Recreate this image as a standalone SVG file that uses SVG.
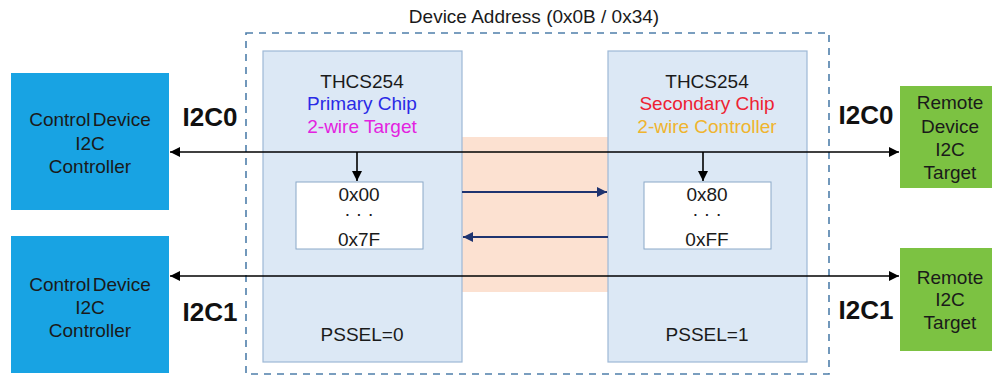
<svg xmlns="http://www.w3.org/2000/svg" width="992" height="376" viewBox="0 0 992 376">
<defs>
<marker id="ab" viewBox="0 0 10 10" refX="10" refY="5" markerWidth="10" markerHeight="10" markerUnits="userSpaceOnUse" orient="auto-start-reverse"><path d="M0,0 L10,5 L0,10 z" fill="#000"/></marker>
<marker id="an" viewBox="0 0 10 10" refX="10" refY="5" markerWidth="10" markerHeight="10" markerUnits="userSpaceOnUse" orient="auto"><path d="M0,0 L10,5 L0,10 z" fill="#1f3470"/></marker>
</defs>
<style>
text{font-family:"Liberation Sans",Arial,sans-serif;text-anchor:middle}
.ctl{fill:#18a3e3}
.tgt{fill:#7cc242}
.chip{fill:#dce8f5;stroke:#9db8d6;stroke-width:1.2}
.mem{fill:#fff;stroke:#8aa8c8;stroke-width:1}
.t{font-size:19px;fill:#1a1a1a}
.bus{font-size:26px;font-weight:bold;fill:#111}
.blk{stroke:#000;stroke-width:1.6;fill:none}
.nav{stroke:#1f3470;stroke-width:1.8;fill:none}
</style>
<rect x="0" y="0" width="992" height="376" fill="#fff"/>
<g id="boundary">
<rect x="246" y="33" width="583" height="341" fill="none" stroke="#4f7fab" stroke-width="1.6" stroke-dasharray="7,6"/>
<text class="t" x="534" y="23">Device Address (0x0B / 0x34)</text>
</g>
<g id="band"><rect x="462" y="137" width="146" height="155" fill="#fce1d1"/></g>
<g id="ctrl0">
<rect class="ctl" x="11" y="73" width="158" height="137"/>
<text class="t" x="90" y="126" style="word-spacing:-3px">Control Device</text>
<text class="t" x="90" y="150">I2C</text>
<text class="t" x="90" y="173">Controller</text>
</g>
<g id="ctrl1">
<rect class="ctl" x="11" y="236" width="158" height="137"/>
<text class="t" x="90" y="291" style="word-spacing:-3px">Control Device</text>
<text class="t" x="90" y="314">I2C</text>
<text class="t" x="90" y="337">Controller</text>
</g>
<g id="primary">
<rect class="chip" x="263" y="51" width="199" height="311"/>
<text class="t" x="362" y="88">THCS254</text>
<text class="t" x="362" y="110" style="fill:#2a2ae6">Primary Chip</text>
<text class="t" x="362" y="133" style="fill:#e322e0">2-wire Target</text>
<rect class="mem" x="296" y="182" width="127" height="67"/>
<text class="t" x="359" y="201">0x00</text>
<text class="t" x="359" y="220">· · ·</text>
<text class="t" x="359" y="246">0x7F</text>
<text class="t" x="362" y="341">PSSEL=0</text>
</g>
<g id="secondary">
<rect class="chip" x="608" y="51" width="199" height="311"/>
<text class="t" x="707" y="88">THCS254</text>
<text class="t" x="707" y="110" style="fill:#ee2232">Secondary Chip</text>
<text class="t" x="707" y="133" style="fill:#efb42e">2-wire Controller</text>
<rect class="mem" x="644" y="182" width="127" height="67"/>
<text class="t" x="707" y="201">0x80</text>
<text class="t" x="707" y="220">· · ·</text>
<text class="t" x="707" y="246">0xFF</text>
<text class="t" x="707" y="341">PSSEL=1</text>
</g>
<g id="remote0">
<rect class="tgt" x="900" y="86" width="92" height="102"/>
<text class="t" x="950" y="109">Remote</text>
<text class="t" x="950" y="133">Device</text>
<text class="t" x="950" y="156">I2C</text>
<text class="t" x="950" y="179">Target</text>
</g>
<g id="remote1">
<rect class="tgt" x="900" y="248" width="92" height="103"/>
<text class="t" x="950" y="284">Remote</text>
<text class="t" x="950" y="306">I2C</text>
<text class="t" x="950" y="329">Target</text>
</g>
<g id="labels">
<text class="bus" x="210" y="126">I2C0</text>
<text class="bus" x="866" y="124">I2C0</text>
<text class="bus" x="210" y="321">I2C1</text>
<text class="bus" x="866" y="319">I2C1</text>
</g>
<g id="connectors">
<line class="blk" x1="170" y1="152" x2="899" y2="152" marker-start="url(#ab)" marker-end="url(#ab)"/>
<line class="blk" x1="170" y1="276" x2="899" y2="276" marker-start="url(#ab)" marker-end="url(#ab)"/>
<line class="blk" x1="357" y1="152" x2="357" y2="181" marker-end="url(#ab)"/>
<line class="blk" x1="703" y1="152" x2="703" y2="181" marker-end="url(#ab)"/>
<line class="nav" x1="462" y1="192" x2="607" y2="192" marker-end="url(#an)"/>
<line class="nav" x1="608" y1="237" x2="463" y2="237" marker-end="url(#an)"/>
</g>
</svg>
